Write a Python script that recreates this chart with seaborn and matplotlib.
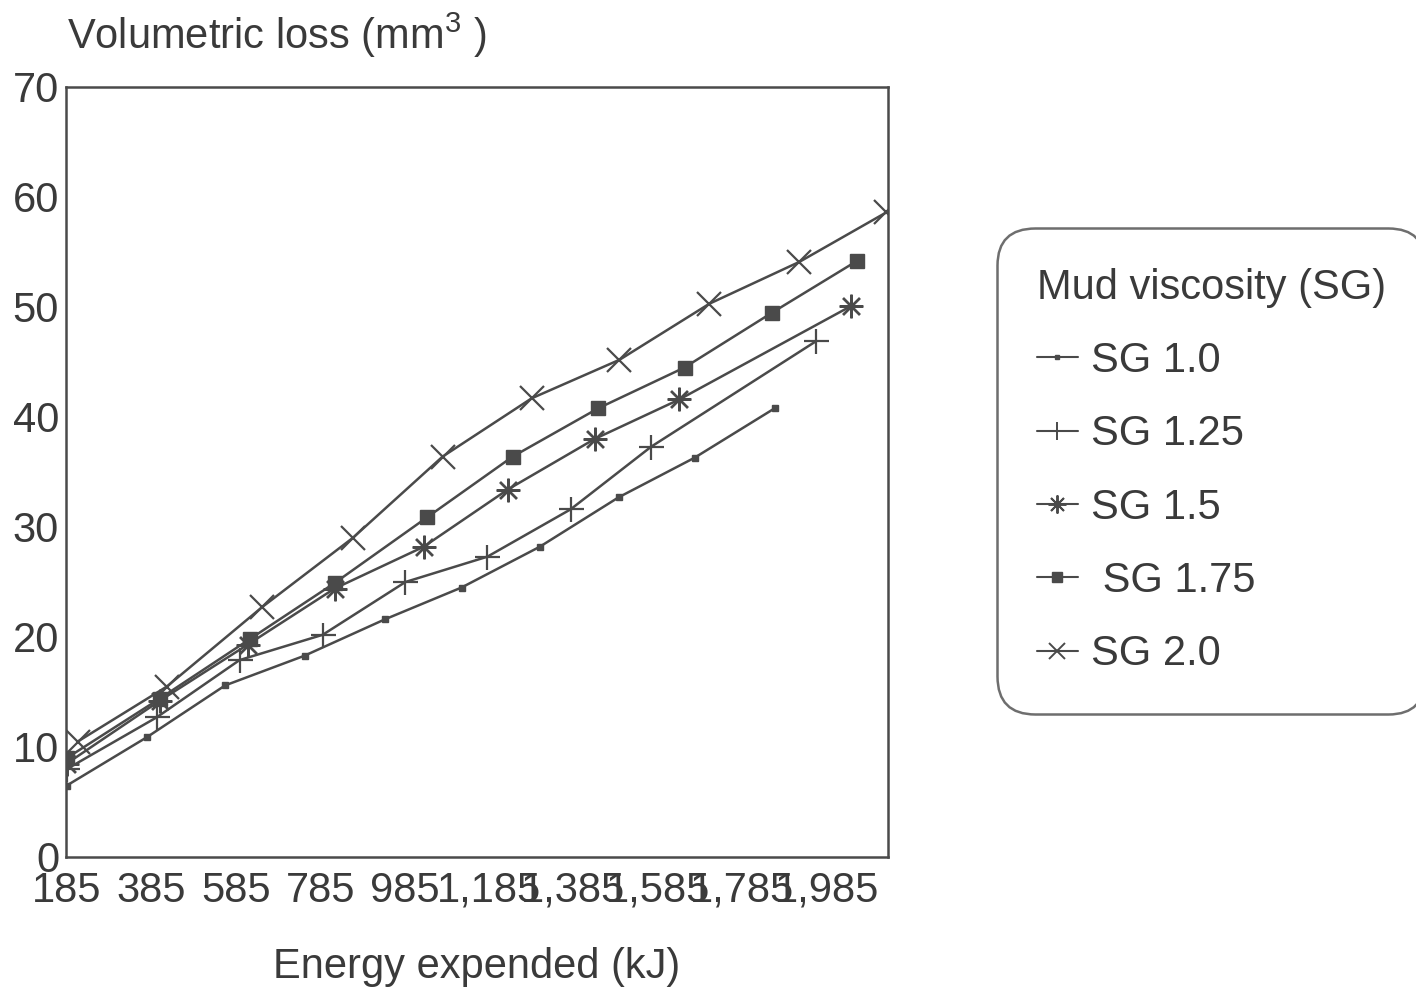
import matplotlib
matplotlib.use("Agg")
import matplotlib.pyplot as plt
from matplotlib.lines import Line2D
import seaborn as sns
import pandas as pd

# ---- data ----
sg10_x = [185, 375, 560, 748, 938, 1120, 1305, 1492, 1672, 1862]
sg10_y = [6.5, 10.9, 15.6, 18.3, 21.6, 24.5, 28.2, 32.7, 36.3, 40.8]

sg125_x = [185, 398, 594, 791, 987, 1181, 1378, 1569, 1960]
sg125_y = [8.0, 12.7, 17.9, 20.2, 25.0, 27.3, 31.6, 37.3, 46.9]

sg15_x = [185, 405, 613, 819, 1030, 1229, 1435, 1636, 2043]
sg15_y = [8.5, 14.2, 19.3, 24.4, 28.2, 33.4, 38.0, 41.6, 50.1]

sg175_x = [185, 405, 618, 819, 1039, 1241, 1444, 1648, 1856, 2057]
sg175_y = [9.0, 14.4, 19.8, 24.9, 30.9, 36.4, 40.8, 44.5, 49.5, 54.2]

sg20_x = [211, 422, 647, 862, 1075, 1286, 1494, 1707, 1920, 2126]
sg20_y = [10.5, 15.5, 22.7, 29.0, 36.4, 41.7, 45.2, 50.3, 54.1, 58.6]

series_labels = ["SG 1.0", "SG 1.25", "SG 1.5", " SG 1.75", "SG 2.0"]
x_ticks = [185, 385, 585, 785, 985, 1185, 1385, 1585, 1785, 1985]
x_tick_labels = ["185", "385", "585", "785", "985", "1,185", "1,385", "1,585", "1,785", "1,985"]
y_ticks = [0, 10, 20, 30, 40, 50, 60, 70]

# ---- style ----
sns.set_style("white")
plt.rcParams["font.family"] = ["Liberation Sans", "DejaVu Sans"]
plt.rcParams["mathtext.fontset"] = "custom"
plt.rcParams["mathtext.rm"] = "Liberation Sans"
plt.rcParams["mathtext.it"] = "Liberation Sans"

TXT = "#3a3a3a"
LINE = "#4a4a4a"
FS = 30

fig = plt.figure(figsize=(14.16, 9.91), dpi=100)
ax = fig.add_axes([66 / 1416, 1 - 857 / 991, (888 - 66) / 1416, (857 - 87) / 991])

styles = [
    dict(marker="s", ms=4, mfc=LINE, mec=LINE, mew=1),
    dict(marker="+", ms=18, mfc=LINE, mec=LINE, mew=1.6),
    dict(marker=(8, 2, 0), ms=17, mfc=LINE, mec=LINE, mew=1.7),
    dict(marker="s", ms=10, mfc=LINE, mec=LINE, mew=1),
    dict(marker="x", ms=17, mfc=LINE, mec=LINE, mew=1.6),
]
xs = [sg10_x, sg125_x, sg15_x, sg175_x, sg20_x]
ys = [sg10_y, sg125_y, sg15_y, sg175_y, sg20_y]

for x, y, lab, st in zip(xs, ys, series_labels, styles):
    df = pd.DataFrame({"x": x, "y": y})
    sns.lineplot(data=df, x="x", y="y", ax=ax, color=LINE, lw=1.8,
                 sort=False, estimator=None, label=lab, **st)

ax.set_xlim(183, 2130)
ax.set_ylim(0, 70)
ax.set_xticks(x_ticks)
ax.set_xticklabels(x_tick_labels)
ax.set_yticks(y_ticks)
ax.set_xlabel("")
ax.set_ylabel("")
ax.tick_params(axis="both", length=0, labelsize=FS, colors=TXT)
ax.tick_params(axis="x", pad=10)
ax.tick_params(axis="y", pad=5)
for sp in ax.spines.values():
    sp.set_visible(True)
    sp.set_color(LINE)
    sp.set_linewidth(1.8)

fig.text(67 / 1416, 1 - 35 / 991, "Volumetric loss (mm$^{3}$ )", ha="left", va="center",
         fontsize=FS, color=TXT)
fig.text(477 / 1416, 1 - 967 / 991, "Energy expended (kJ)", ha="center", va="center",
         fontsize=FS, color=TXT)

# legend with smaller marker handles
leg_styles = [
    dict(marker="s", ms=3),
    dict(marker="+", ms=13, mew=1.4),
    dict(marker=(8, 2, 0), ms=13, mew=1.4),
    dict(marker="s", ms=7),
    dict(marker="x", ms=11, mew=1.4),
]
handles = [Line2D([], [], color=LINE, lw=1.5, mfc=LINE, mec=LINE, **s) for s in leg_styles]
leg = ax.legend(handles, series_labels, title="Mud viscosity (SG)",
                loc="upper left", bbox_to_anchor=(997 / 1416, 1 - 228 / 991),
                bbox_transform=fig.transFigure, fontsize=FS, title_fontsize=FS,
                frameon=True, fancybox=True, borderpad=0.95, handlelength=1.0,
                handletextpad=0.3, labelspacing=0.8, alignment="left",
                borderaxespad=0)
for t in leg.get_texts():
    t.set_color(TXT)
leg.get_title().set_color(TXT)
frame = leg.get_frame()
frame.set_edgecolor(LINE)
frame.set_linewidth(1.8)
frame.set_boxstyle("round,pad=0,rounding_size=0.9")

fig.savefig("out.png", dpi=100, facecolor="white")
